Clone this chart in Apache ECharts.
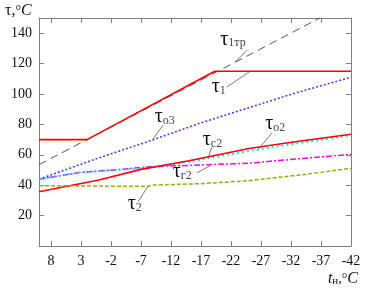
<!DOCTYPE html>
<html>
<head>
<meta charset="utf-8">
<script src="https://cdn.jsdelivr.net/npm/echarts@6/dist/echarts.min.js"></script>
<style>
  html, body { margin: 0; padding: 0; background: #fff; }
  #chart { width: 385px; height: 290px; }
</style>
</head>
<body>
<div id="chart"></div>
<script>
// outdoor temperature ticks (°C), axis runs from warm to cold
const tOut = [8, 3, -2, -7, -12, -17, -22, -27, -32, -37, -42];
const yTicks = [20, 40, 60, 80, 100, 120, 140];

// each curve as [t_outdoor, temperature] pairs
const tau1Design = [[10, 53.5], [-36.8, 150]];
const tau1 = [[10, 70], [2, 70], [-19.3, 115], [-42, 115]];
const tauO3 = [[10, 44], [0, 58], [-8, 68.5], [-17, 81], [-25, 91], [-33, 101], [-42, 111]];
const tauR2 = [[10, 44], [3, 48.5], [-3, 50.2], [-8, 52], [-25, 54.5], [-33, 57.3], [-42, 60.3]];
const tauC2 = [[10, 44], [3, 48.5], [-3, 50], [-8, 51.3], [-12, 53.5], [-15, 55.5], [-20, 59], [-25, 62.5], [-33, 67.5], [-42, 72.8]];
const tauO2 = [[10, 35.7], [0, 43.4], [-7, 50.4], [-15, 56.1], [-25, 64.1], [-33, 68.8], [-42, 73.5]];
const tau2 = [[10, 39.7], [-8, 39.2], [-9, 40.1], [-17, 41], [-25, 43], [-33, 46.5], [-42, 51]];

// callouts: subscript, label anchor, leader line start/end (data coords)
const notes = [
  { sub: '1тр', at: [-20.2, 136], from: [-22.7, 121], to: [-24.7, 129] },
  { sub: '1', at: [-18.8, 105], from: [-25.2, 115], to: [-21.3, 104.6] },
  { sub: 'о3', at: [-9.3, 85], from: [-9, 70.4], to: [-10.7, 79.6] },
  { sub: 'с2', at: [-17.3, 70], from: [-18.2, 58], to: [-18.8, 65] },
  { sub: 'г2', at: [-12.3, 48.7], from: [-18.5, 52.8], to: [-16.3, 48] },
  { sub: 'о2', at: [-27.7, 80.5], from: [-26.3, 62.5], to: [-28.8, 74.3] },
  { sub: '2', at: [-4.8, 27.6], from: [-8.2, 39.5], to: [-6.5, 29] }
];

const serif = '"Liberation Serif", "DejaVu Serif", serif';
const frame = { onZero: false, lineStyle: { color: '#808080', width: 1 } };

function xAx(pos, labels) {
  return {
    type: 'value', position: pos, inverse: true, min: -42, max: 10,
    axisLine: { show: true, ...frame },
    axisTick: { show: true, inside: true, length: 5, customValues: tOut, lineStyle: { color: '#808080' } },
    axisLabel: { show: labels, customValues: tOut, margin: 8, color: '#111', fontFamily: serif, fontSize: 14 },
    splitLine: { show: false }
  };
}

function yAx(pos, labels) {
  return {
    type: 'value', position: pos, min: 0, max: 150,
    axisLine: { show: true, ...frame },
    axisTick: { show: true, inside: true, length: 5, customValues: yTicks, lineStyle: { color: '#808080' } },
    axisLabel: { show: labels, customValues: yTicks, margin: 7, color: '#111', fontFamily: serif, fontSize: 14 },
    splitLine: { show: false }
  };
}

function line(data, color, type, width) {
  return {
    type: 'line', data: data, symbol: 'none', silent: true,
    lineStyle: { color: color, type: type, width: width }
  };
}

const chart = echarts.init(document.getElementById('chart'), null, { renderer: 'canvas' });

chart.setOption({
  animation: false,
  backgroundColor: '#fff',
  grid: { left: 39, right: 34, top: 18, bottom: 44 },
  xAxis: [xAx('bottom', true), xAx('top', false)],
  yAxis: [yAx('left', true), yAx('right', false)],
  series: [
    line(tau1Design, '#555', [8, 5], 1),
    line(tauO3, '#3a3aff', [2, 2], 1.5),
    line(tauR2, '#ff00ff', [6, 2, 2, 2], 1.5),
    line(tauC2, '#00e0f0', [2, 3], 1.8),
    line(tauO2, '#ff0000', 'solid', 1.6),
    line(tau1, '#ff0000', 'solid', 1.6),
    line(tau2, '#99aa10', [4, 2], 1.5)
  ]
});

// callout texts and leader lines, placed through the chart's own scales
const px = p => chart.convertToPixel({ seriesIndex: 0 }, p);
const graphics = [];
notes.forEach(n => {
  const a = px(n.from), b = px(n.to), c = px(n.at);
  graphics.push({
    type: 'line', silent: true,
    shape: { x1: a[0], y1: a[1], x2: b[0], y2: b[1] },
    style: { stroke: '#555', lineWidth: 0.8 }
  });
  graphics.push({
    type: 'text', silent: true, x: c[0], y: c[1],
    style: {
      text: '{t|τ}{s|' + n.sub + '}',
      verticalAlign: 'middle', align: 'left',
      rich: {
        t: { fontFamily: serif, fontSize: 20, lineHeight: 20, fill: '#111' },
        s: { fontFamily: serif, fontSize: 12, lineHeight: 12, fill: '#444', verticalAlign: 'bottom' }
      }
    }
  });
});

// axis titles
graphics.push({
  type: 'text', silent: true, x: 5, y: 11,
  style: {
    text: '{a|τ,}{b|°}{c|C}', verticalAlign: 'middle', align: 'left',
    rich: {
      a: { fontFamily: serif, fontSize: 16, fill: '#111' },
      b: { fontFamily: serif, fontSize: 14, fill: '#111' },
      c: { fontFamily: serif, fontSize: 16, fontStyle: 'italic', fill: '#111' }
    }
  }
});
graphics.push({
  type: 'text', silent: true, x: 358, y: 279,
  style: {
    text: '{a|t}{s|н}{b|,°}{c|C}', verticalAlign: 'middle', align: 'right',
    rich: {
      a: { fontFamily: serif, fontSize: 16, fontStyle: 'italic', lineHeight: 16, fill: '#111' },
      s: { fontFamily: serif, fontSize: 11, lineHeight: 11, verticalAlign: 'bottom', fill: '#111' },
      b: { fontFamily: serif, fontSize: 14, lineHeight: 16, fill: '#111' },
      c: { fontFamily: serif, fontSize: 16, fontStyle: 'italic', lineHeight: 16, fill: '#111' }
    }
  }
});

chart.setOption({ graphic: graphics });
</script>
</body>
</html>
